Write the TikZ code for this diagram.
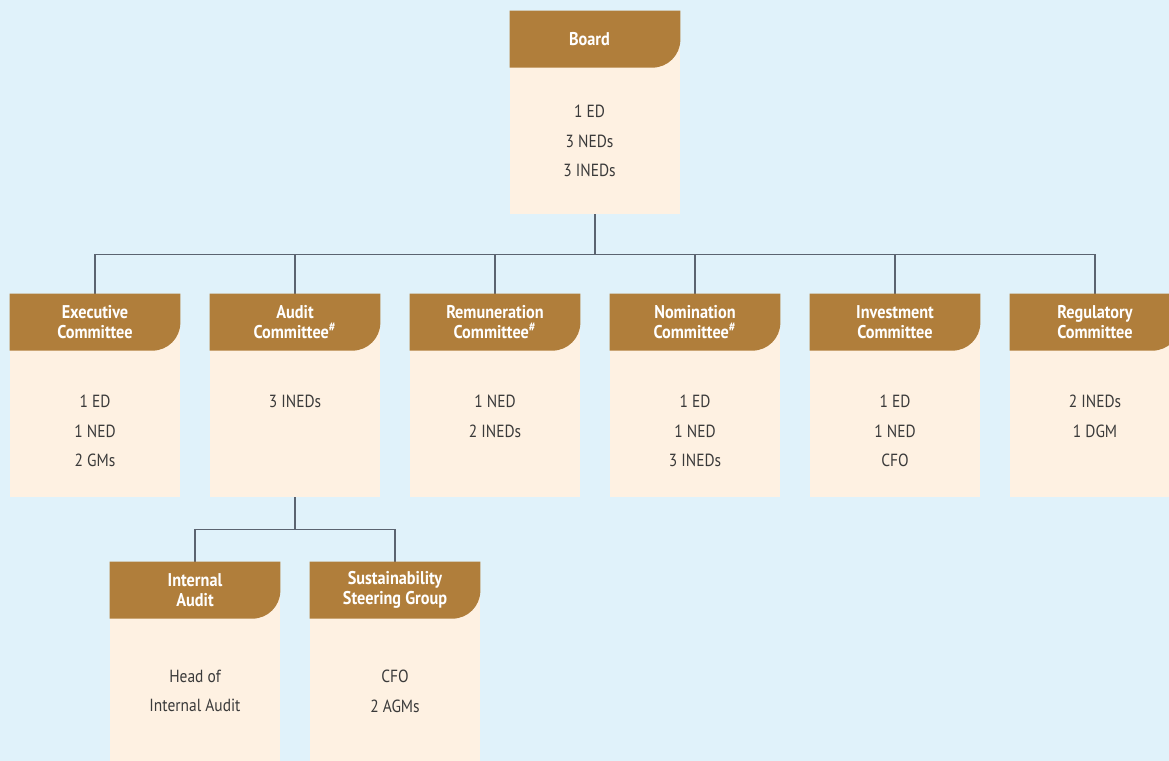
\documentclass[tikz,border=0pt]{standalone}
\usepackage{fontspec}
\setmainfont[FakeStretch=0.88]{PT Sans}
\definecolor{bgblue}{HTML}{E0F2FA}
\definecolor{headbrown}{HTML}{B07E3B}
\definecolor{bodycream}{HTML}{FEF1E2}
\definecolor{linkgrey}{HTML}{5B6470}
\definecolor{textgrey}{HTML}{3A3A3A}
\tikzset{
	unit/.style={rectangle,fill=bodycream,minimum width=3.4cm,minimum height=4.06cm,inner sep=0pt},
	unittitle/.style={text=white,font=\bfseries\fontsize{10.5}{11.3}\selectfont,align=center,inner sep=0pt},
	unitbody/.style={text=textgrey,font=\fontsize{10}{16.8}\selectfont,align=center,anchor=north,inner sep=0pt}
}
\begin{document}
\begin{tikzpicture}[edge from parent/.style={draw=linkgrey,line width=0.6pt},
				level 1/.style={sibling distance=4cm,level distance=5.66cm,
					edge from parent path={(\tikzparentnode.south) -- +(0,-0.8cm) -| (\tikzchildnode.north)}},
				level 2/.style={sibling distance=4cm,level distance=5.36cm,
					edge from parent path={(\tikzparentnode.south) -- +(0,-0.65cm) -| (\tikzchildnode.north)}}]
\clip (0,0) rectangle (23.38,-15.22);
\fill[bgblue] (0,0) rectangle (23.38,-15.22);
\node[unit] (board) at (11.9,-2.25) {}
child { node[unit] (exec) {} }
child { node[unit] (audit) {}
	child { node[unit] (internal) {} }
	child { node[unit] (sustain) {} }
}
child { node[unit] (remun) {} }
child { node[unit] (nomin) {} }
child { node[unit] (invest) {} }
child { node[unit] (regul) {} };
% headers and members
\foreach \n/\t/\b/\d/\s in {board/Board/{1 ED\\3 NEDs\\3 INEDs}/1.88/-0.11,
		exec/{Executive\\Committee}/{1 ED\\1 NED\\2 GMs}/2.02/0,
		audit/{Audit\\Committee\textsuperscript{\#}}/{3 INEDs}/2.02/0,
		remun/{Remuneration\\Committee\textsuperscript{\#}}/{1 NED\\2 INEDs}/2.02/0,
		nomin/{Nomination\\Committee\textsuperscript{\#}}/{1 ED\\1 NED\\3 INEDs}/2.02/0,
		invest/{Investment\\Committee}/{1 ED\\1 NED\\CFO}/2.02/0,
		regul/{Regulatory\\Committee}/{2 INEDs\\1 DGM}/2.02/0,
		internal/{Internal\\Audit}/{Head of\\Internal Audit}/2.16/0,
		sustain/{Sustainability\\Steering Group}/{CFO\\2 AGMs}/2.16/0} {
	\fill[headbrown] (\n.north west) -- (\n.north east) -- ([yshift=-0.58cm]\n.north east)
		arc[start angle=0,end angle=-90,radius=0.56cm] -- ([yshift=-1.14cm]\n.north west) -- cycle;
	\node[unittitle] (\n-title) at ([xshift=\s cm,yshift=-0.57cm]\n.north) {\t};
	\node[unitbody] (\n-body) at ([xshift=\s cm,yshift=-\d cm]\n.north) {\b};
}
\end{tikzpicture}
\end{document}
